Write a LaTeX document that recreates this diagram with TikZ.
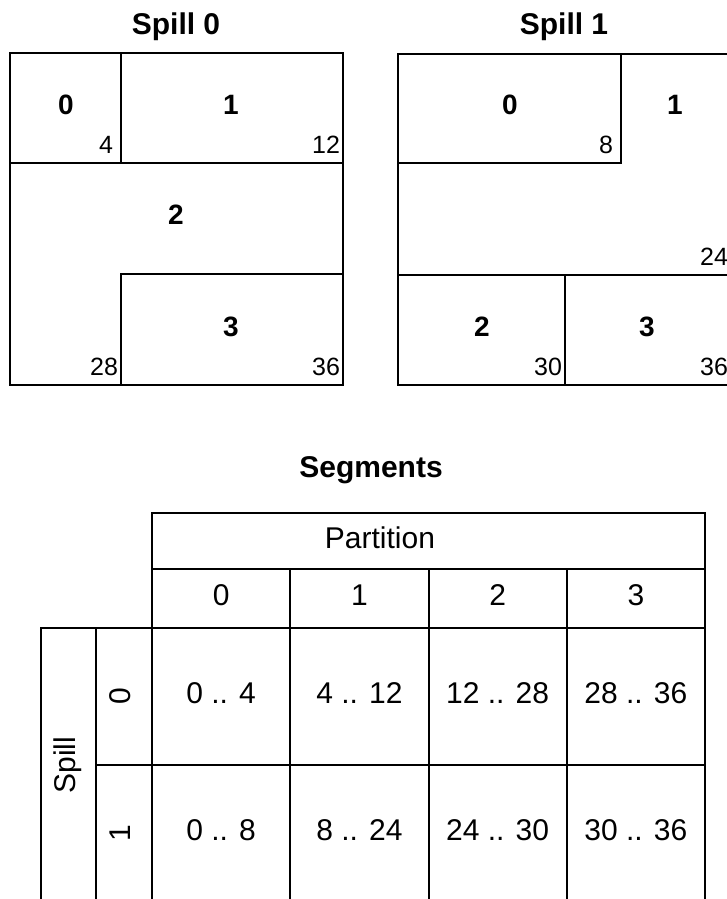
\documentclass[tikz,border=0pt]{standalone}
\usepackage{fontspec}
\setmainfont{Liberation Sans}

\begin{document}
\begin{tikzpicture}[
  x=1pt, y=-1pt,
  line width=2pt,
  ttl/.style={font=\fontsize{30}{36}\selectfont\bfseries},
  part/.style={font=\fontsize{28}{34}\selectfont\bfseries},
  offs/.style={font=\fontsize{25}{30}\selectfont, anchor=base east, inner sep=0pt},
  cell/.style={draw, inner sep=0pt, text depth=7pt, font=\fontsize{30}{36}\selectfont},
]
\useasboundingbox (0,0) rectangle (727,899);

\node[ttl] (ttl0) at (176,27) {Spill 0};
\draw (10,53) rectangle (343,385);
\draw (121,53) -- (121,163);
\draw (10,163) -- (343,163);
\draw (121,385) -- (121,274) -- (343,274);
\node[part] (a0) at (66,105) {0};
\node[part] (a1) at (231,105) {1};
\node[part] (a2) at (176,215) {2};
\node[part] (a3) at (231,327) {3};
\node[offs] (ae0) at (114,153) {4};
\node[offs] (ae1) at (341,153) {12};
\node[offs] (ae2) at (119,375) {28};
\node[offs] (ae3) at (341,375) {36};

\node[ttl] (ttl1) at (564,27) {Spill 1};
\draw (398,54) rectangle (731,385);
\draw (398,163) -- (621,163) -- (621,54);
\draw (398,275) -- (731,275);
\draw (565,275) -- (565,385);
\node[part] (b0) at (510,105) {0};
\node[part] (b1) at (675,105) {1};
\node[part] (b2) at (482,327) {2};
\node[part] (b3) at (647,327) {3};
\node[offs] (be0) at (614,153) {8};
\node[offs] (be1) at (729,265) {24};
\node[offs] (be2) at (563,375) {30};
\node[offs] (be3) at (729,375) {36};

\node[ttl] (ttlseg) at (371,470) {Segments};

\node[cell, minimum width=553, minimum height=56] (parts) at (428.5,541) {Partition\hspace*{97pt}};
\foreach \c in {0,...,3}
  \node[cell, minimum width=138.25, minimum height=59] (ph\c) at (221.125+138.25*\c,598.5) {\c};
\foreach \txt [count=\c from 0] in {{0 .. 4},{4 .. 12},{12 .. 28},{28 .. 36}}
  \node[cell, minimum width=138.25, minimum height=137] (r0c\c) at (221.125+138.25*\c,696.5) {\txt};
\foreach \txt [count=\c from 0] in {{0 .. 8},{8 .. 24},{24 .. 30},{30 .. 36}}
  \node[cell, minimum width=138.25, minimum height=137] (r1c\c) at (221.125+138.25*\c,833.5) {\txt};

\node[cell, rotate=90, minimum width=274, minimum height=55] (spill) at (68.5,765) {Spill};
\node[cell, rotate=90, minimum width=137, minimum height=56] (sp0) at (124,696.5) {0};
\node[cell, rotate=90, minimum width=137, minimum height=56] (sp1) at (124,833.5) {1};
\end{tikzpicture}
\end{document}
